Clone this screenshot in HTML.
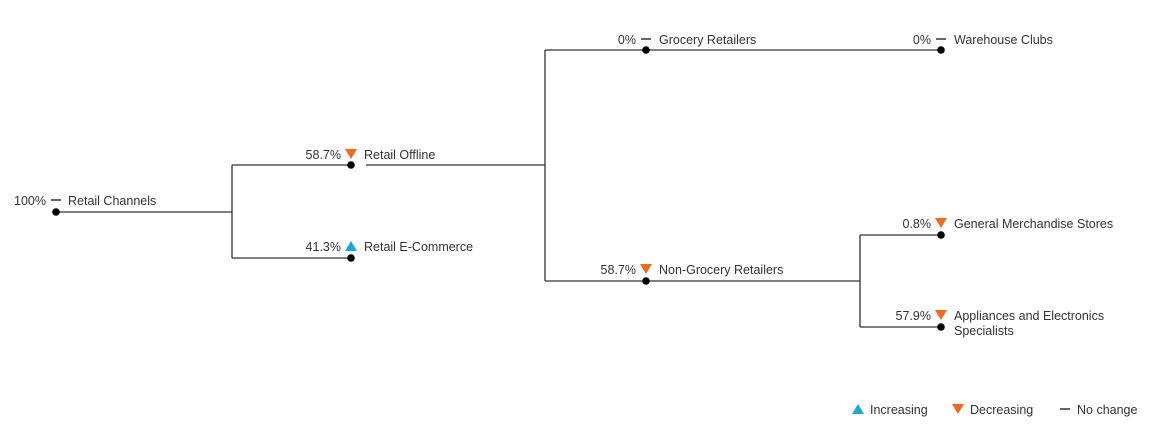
<!DOCTYPE html>
<html><head><meta charset="utf-8"><style>
html,body{margin:0;padding:0;background:#fff;width:1160px;height:437px;overflow:hidden}
svg text{font-family:"Liberation Sans",sans-serif;font-size:12.5px;fill:#333}
</style></head><body>
<svg width="1160" height="437" xmlns="http://www.w3.org/2000/svg">
<defs>
<g id="dn"><polygon points="-6,-5 6,-5 0,5" fill="#f26b1d"/></g>
<g id="up"><polygon points="-6,5 6,5 0,-5" fill="#1aa6d6"/></g>
<g id="nc"><rect x="-5" y="-1" width="10" height="2" fill="#666"/></g>
</defs>
<g stroke="#333" stroke-width="1.3" fill="none">
<path d="M56 212H232M232 165V258M232 165H351M232 258H351"/>
<path d="M366 165H545M545 50V281M545 50H941M545 281H860M860 235V327M860 235H941M860 327H941"/>
</g>
<g fill="#000">
<circle cx="56" cy="212" r="3.8"/><circle cx="351" cy="165" r="3.8"/><circle cx="351" cy="258" r="3.8"/>
<circle cx="646" cy="50" r="3.8"/><circle cx="941" cy="50" r="3.8"/><circle cx="646" cy="281" r="3.8"/>
<circle cx="941" cy="235" r="3.8"/><circle cx="941" cy="327" r="3.8"/>
</g>
<g text-anchor="end">
<text x="46" y="205">100%</text>
<text x="341" y="159">58.7%</text>
<text x="341" y="251">41.3%</text>
<text x="636" y="44">0%</text>
<text x="931" y="44">0%</text>
<text x="636" y="274">58.7%</text>
<text x="931" y="228">0.8%</text>
<text x="931" y="320">57.9%</text>
</g>
<use href="#nc" x="56" y="200"/>
<use href="#dn" x="351" y="154"/>
<use href="#up" x="351" y="246"/>
<use href="#nc" x="646" y="39"/>
<use href="#nc" x="941" y="39"/>
<use href="#dn" x="646" y="269"/>
<use href="#dn" x="941" y="223"/>
<use href="#dn" x="941" y="315"/>
<text x="68" y="205">Retail Channels</text>
<text x="364" y="159">Retail Offline</text>
<text x="364" y="251">Retail E-Commerce</text>
<text x="659" y="44">Grocery Retailers</text>
<text x="954" y="44">Warehouse Clubs</text>
<text x="659" y="274">Non-Grocery Retailers</text>
<text x="954" y="228">General Merchandise Stores</text>
<text x="954" y="320">Appliances and Electronics</text>
<text x="954" y="335">Specialists</text>
<use href="#up" x="858" y="409"/><text x="870" y="414">Increasing</text>
<use href="#dn" x="958" y="409"/><text x="970" y="414">Decreasing</text>
<use href="#nc" x="1065" y="409"/><text x="1077" y="414">No change</text>
</svg>
</body></html>
